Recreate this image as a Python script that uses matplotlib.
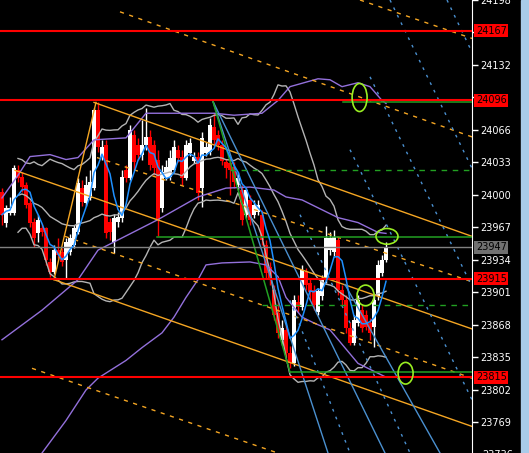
import numpy as np
import pandas as pd
import matplotlib
matplotlib.use("Agg")
import matplotlib.pyplot as plt
from matplotlib.patches import Ellipse, Rectangle

# M-candles, oldest first
opens = [24003, 23972, 23982, 23982, 24025, 24018, 24010, 23992, 23973, 23961,
         23966, 23966, 23932, 23922, 23944, 23942, 23934, 23942, 23949, 23962,
         24007, 23992, 23997, 24007, 24086, 24039, 24051, 23973, 23952, 23973,
         23977, 24025, 24017, 24061, 24051, 24041, 24051, 24059, 24051, 24036,
         23987, 24017, 24018, 24025, 24046, 24039, 24017, 24043, 24035, 24039,
         24007, 24043, 24044, 24069, 24061, 24051, 24033, 24032, 24028, 24010,
         24005, 23980, 23995, 23980, 23983, 23980, 23949, 23927, 23904, 23880,
         23853, 23863, 23840, 23829, 23891, 23886, 23922, 23911, 23904, 23881,
         23897, 23914, 23944, 23942, 23954, 23904, 23893, 23865, 23850, 23870,
         23883, 23878, 23870, 23866, 23897, 23921, 23934]
closes = [23980, 23987, 23987, 24027, 24017, 24008, 23990, 23972, 23956, 23975,
          23962, 23934, 23922, 23944, 23939, 23932, 23952, 23956, 23966, 24012,
          23993, 24010, 24013, 24086, 24049, 24049, 23961, 23962, 23977, 23978,
          24018, 24017, 24066, 24034, 24041, 24051, 24059, 24030, 24027, 23975,
          24023, 24028, 24038, 24049, 24038, 24017, 24051, 24053, 24039, 24002,
          24058, 24049, 24071, 24056, 24051, 24035, 24027, 24025, 24013, 24017,
          23975, 24005, 23975, 23990, 23990, 23954, 23921, 23914, 23878, 23860,
          23865, 23840, 23829, 23893, 23886, 23924, 23909, 23901, 23888, 23902,
          23914, 23956, 23956, 23957, 23904, 23893, 23865, 23850, 23873, 23893,
          23865, 23866, 23860, 23893, 23929, 23934, 23946]
highs = [24007, 23990, 23998, 24030, 24030, 24023, 24013, 23995, 23977, 23980,
         23971, 23968, 23936, 23949, 23956, 23946, 23956, 23960, 23970, 24017,
         24015, 24019, 24025, 24088, 24094, 24056, 24056, 23977, 23981, 23983,
         24025, 24030, 24071, 24066, 24058, 24076, 24088, 24066, 24056, 24046,
         24030, 24036, 24046, 24056, 24051, 24046, 24056, 24058, 24044, 24044,
         24064, 24054, 24078, 24083, 24066, 24056, 24037, 24037, 24033, 24023,
         24010, 24007, 24000, 23995, 23995, 23985, 23954, 23932, 23909, 23893,
         23873, 23868, 23847, 23898, 23898, 23929, 23926, 23916, 23909, 23906,
         23919, 23969, 23962, 23964, 23958, 23909, 23898, 23871, 23878, 23898,
         23888, 23883, 23875, 23898, 23934, 23939, 23952]
lows = [23970, 23967, 23980, 23980, 24013, 24003, 23987, 23968, 23947, 23952,
        23958, 23929, 23917, 23920, 23936, 23928, 23916, 23939, 23946, 23960,
        23989, 23989, 23995, 24005, 24044, 24036, 23956, 23954, 23941, 23967,
        23973, 24013, 24015, 24025, 24036, 24036, 24046, 24025, 24020, 23958,
        23983, 24015, 24015, 24023, 24034, 24010, 24015, 24040, 24032, 23995,
        23988, 24040, 24041, 24051, 24046, 24030, 24017, 24000, 24007, 24005,
        23970, 23977, 23970, 23977, 23980, 23949, 23916, 23909, 23873, 23855,
        23848, 23834, 23824, 23826, 23881, 23883, 23904, 23893, 23883, 23878,
        23893, 23911, 23939, 23938, 23898, 23888, 23860, 23848, 23848, 23867,
        23861, 23863, 23853, 23846, 23893, 23918, 23932]

# slow (purple) envelope, read at a few bars
purple_up_bar = [0, 4, 7, 12, 16, 19, 23, 31, 36, 43, 53, 58, 65, 69, 72, 79, 82, 85, 89, 92, 95, 96]
purple_up = [23997, 24020, 24039, 24041, 24036, 24038, 24056, 24058, 24083, 24083, 24083,
             24081, 24083, 24096, 24110, 24118, 24117, 24110, 24114, 24110, 24096, 24093]
purple_mid_bar = [0, 10, 19, 24, 39, 49, 56, 62, 68, 71, 75, 80, 84, 89, 94, 96]
purple_mid = [23853, 23883, 23914, 23944, 23975, 23998, 24007, 24008, 24005, 23998,
              23995, 23985, 23977, 23972, 23962, 23961]
purple_lo_bar = [7, 10, 16, 21, 24, 31, 35, 40, 43, 46, 49, 51, 55, 62, 66, 69, 71, 75,
                 78, 82, 89, 95, 96]
purple_lo = [23715, 23738, 23771, 23802, 23814, 23832, 23845, 23860, 23876, 23896, 23914,
             23929, 23931, 23932, 23929, 23917, 23896, 23876, 23870, 23863, 23829, 23817, 23815]

# drawn objects: (bar, price) -> (bar, price)
orange_solid = [((23, 24094), (117.5, 23958)),
                ((3.25, 24025), (117.5, 23864)),
                ((13, 23914), (117.5, 23765)),
                ((13, 23914), (23.5, 24094))]
orange_dash = [((29.5, 24186), (117.5, 24059)),
               ((89.5, 24198), (117.5, 24159)),
               ((23.75, 24038), (117.5, 23912)),
               ((15.75, 23958), (117.5, 23814)),
               ((7.5, 23824), (117.5, 23670))]
blue_solid = [((52.75, 24095), (81.5, 23738)),
              ((52.75, 24095), (95.75, 23738)),
              ((85.75, 23909), (109.5, 23738))]
blue_dash = [((111.25, 24198), (117.5, 24145)),
             ((97, 24198), (117.5, 24027)),
             ((92, 24120), (117.5, 23907)),
             ((87, 24046), (117.5, 23792)),
             ((74.5, 23980), (102, 23738)),
             ((72, 23893), (87, 23738))]
green_solid = [((52.75, 24095), (72, 23820)),
               ((85.25, 24094), (117.5, 24094)),
               ((38.75, 23957), (117.5, 23957)),
               ((72, 23820), (117.5, 23820))]
green_dash = [((57, 24025), (117.5, 24025)),
              ((65, 23888), (117.5, 23888))]

red_levels = [24167, 24096, 23915, 23815]
last_price = 23947
tick_values = [24198, 24165, 24132, 24099, 24066, 24033, 24000, 23967, 23934,
               23901, 23868, 23835, 23802, 23769]
hidden_ticks = [24165, 24099]   # sit under the red level boxes

marks_bar = [89.4, 96.25, 90.9, 100.9]
marks_price = [24099, 23958, 23898, 23819]
marks_w = [3.75, 5.5, 4.25, 3.75]
marks_h = [28.5, 16, 21, 22]

fig = plt.figure(figsize=(5.29, 4.53), dpi=100, facecolor="black")
ax = fig.add_axes([0, 0, 472 / 529, 1])
ax.set_facecolor("black")
ax.set_xlim(-0.5, 117.5)
ax.set_ylim(23738, 24198)

o = np.array(opens, float); c = np.array(closes, float)
bars = np.arange(len(c))
col = np.where(c >= o, "white", "#ff0000")
ax.vlines(bars, lows, highs, colors=col, lw=1, zorder=2)
ax.bar(bars, np.maximum(np.abs(c - o), 1.2), bottom=np.minimum(o, c), width=0.78,
       color=col, linewidth=0, zorder=2)

s = pd.Series(c)
ma5 = s.rolling(5, min_periods=1).mean()
mid = s.rolling(20, min_periods=5).mean()
sd = s.rolling(20, min_periods=5).std(ddof=0)
gray = "#b4b4b4"
for band in (mid, mid + 2 * sd, mid - 2 * sd):
    ax.plot(bars, band, color=gray, lw=1, zorder=3)
ax.plot(bars, ma5, color="#1e90ff", lw=1.1, zorder=4)

purple = "#9370db"
ax.plot(purple_up_bar, purple_up, color=purple, lw=1, zorder=3)
ax.plot(purple_mid_bar, purple_mid, color=purple, lw=1, zorder=3)
ax.plot(purple_lo_bar, purple_lo, color=purple, lw=1, zorder=3)

def seg(lines, **kw):
    for (x0, y0), (x1, y1) in lines:
        ax.plot([x0, x1], [y0, y1], **kw)

seg(orange_solid, color="#f5a623", lw=1, zorder=3)
seg(orange_dash, color="#f5a623", lw=1, ls=(0, (3, 4)), zorder=3)
seg(blue_solid, color="#4a90d0", lw=1, zorder=3)
seg(blue_dash, color="#4a90d0", lw=1, ls=(0, (2, 4)), zorder=3)
seg(green_solid, color="#22a022", lw=1.1, zorder=3)
seg(green_dash, color="#22a022", lw=1, ls=(0, (4, 4)), zorder=3)

for lv in red_levels:
    ax.axhline(lv, color="#ff0000", lw=1.5, zorder=3)
ax.axhline(last_price, color="#808080", lw=1, zorder=3)

for bx, py, w, h in zip(marks_bar, marks_price, marks_w, marks_h):
    ax.add_patch(Ellipse((bx, py), w, h, fill=False, ec="#99ee22", lw=1.2, zorder=5))

# price scale on the right
for side in ("left", "top", "bottom"):
    ax.spines[side].set_visible(False)
ax.spines["right"].set_color("white")
ax.set_xticks([])
ax.yaxis.tick_right()
ax.set_yticks(tick_values)
ax.set_yticklabels(["" if v in hidden_ticks else str(v) for v in tick_values])
ax.tick_params(axis="y", colors="white", labelsize=7, length=4, width=1, pad=2)
ax.text(1.021, 23736, "23736", transform=ax.get_yaxis_transform(), color="white",
        fontsize=7, va="center", ha="left", clip_on=False)

yt = ax.get_yaxis_transform()
for lv in red_levels:
    ax.text(1.008, lv, str(lv), transform=yt, color="black", fontsize=7, va="center",
            ha="left", clip_on=False, zorder=10,
            bbox=dict(boxstyle="square,pad=0.15", fc="#ff0000", ec="none"))
ax.text(1.008, last_price, str(last_price), transform=yt, color="black", fontsize=7,
        va="center", ha="left", clip_on=False, zorder=10,
        bbox=dict(boxstyle="square,pad=0.15", fc="#707070", ec="none"))

fig.add_artist(Rectangle((521 / 529, 0), 8 / 529, 1, transform=fig.transFigure,
                         color="#a9cbe9", zorder=0))

fig.savefig("out.png", dpi=100, facecolor="black")
